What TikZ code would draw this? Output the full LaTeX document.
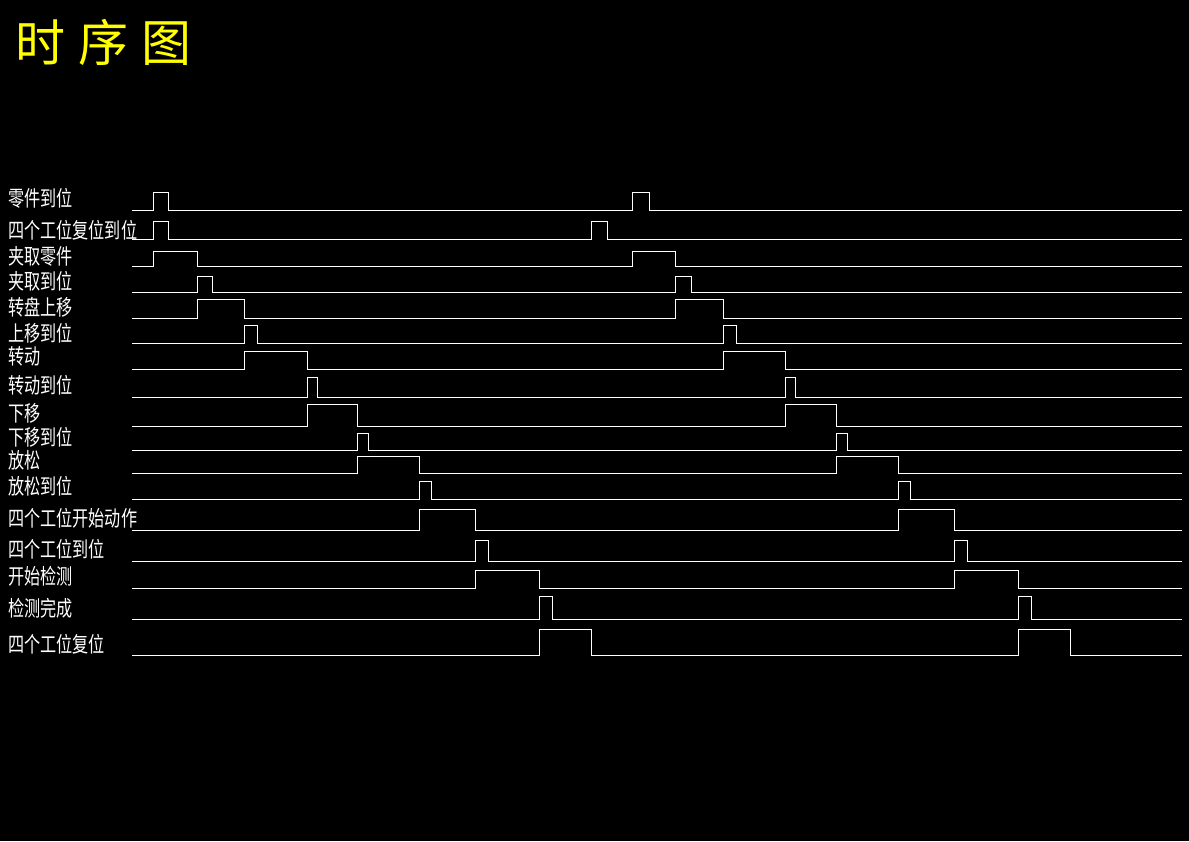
\documentclass[tikz,border=0pt]{standalone}
\usepackage{fontspec}
\usepackage{graphicx}
\newfontfamily\cjk{Noto Sans CJK SC}
\definecolor{titleyellow}{RGB}{255,255,0}
\tikzset{
  sig/.style={draw=white, line width=1pt, line join=miter},
  lab/.style={anchor=west, inner sep=0pt, text=white, font=\cjk\fontsize{21.5}{21.5}\selectfont},
  ttl/.style={anchor=west, inner sep=0pt, text=titleyellow, font=\cjk\fontsize{50}{50}\selectfont}
}
% \wave{low}{high}{a}{b}{c}{d}
\newcommand\wave[6]{%
  \draw[sig] (132.3,#1) -- (#3,#1) -- (#3,#2) -- (#4,#2) -- (#4,#1) -- (#5,#1) -- (#5,#2) -- (#6,#2) -- (#6,#1) -- (1181.7,#1);}
\newcommand\lbl[3]{\node[lab] (#1) at (8,#2) {\scalebox{0.75}[1]{#3}};}
\begin{document}
\begin{tikzpicture}[x=1pt,y=-1pt]
\fill[black] (0,0) rectangle (1189,841);
\useasboundingbox (0,0) rectangle (1189,841);
\node[ttl] (title) at (15,42) {时\hspace{13pt}序\hspace{13pt}图};
\lbl{l1}{198}{零件到位}
\lbl{l2}{230}{四个工位复位到位}
\lbl{l3}{256}{夹取零件}
\lbl{l4}{281}{夹取到位}
\lbl{l5}{307}{转盘上移}
\lbl{l6}{333}{上移到位}
\lbl{l7}{356}{转动}
\lbl{l8}{385}{转动到位}
\lbl{l9}{413}{下移}
\lbl{l10}{437}{下移到位}
\lbl{l11}{460}{放松}
\lbl{l12}{486}{放松到位}
\lbl{l13}{518}{四个工位开始动作}
\lbl{l14}{549}{四个工位到位}
\lbl{l15}{576}{开始检测}
\lbl{l16}{608}{检测完成}
\lbl{l17}{644}{四个工位复位}
\wave{210}{192.3}{153.3}{168.3}{632.3}{649.3}
\wave{239.3}{221.3}{153.3}{168.3}{591.3}{607.3}
\wave{266}{251.3}{153.3}{197.3}{632.3}{675.7}
\wave{292.3}{276.3}{197.3}{212.3}{675.7}{691.3}
\wave{318}{299.3}{197.3}{244.7}{675.7}{723.3}
\wave{343.3}{325.3}{244.7}{257}{723.3}{736.3}
\wave{369.3}{351.3}{244.7}{307.3}{723.3}{785.3}
\wave{397.3}{377.3}{307.3}{317.7}{785.3}{795.3}
\wave{426.3}{404.3}{307.3}{357.5}{785.3}{836.3}
\wave{450.3}{433.3}{357.5}{368.3}{836.3}{847.3}
\wave{473.3}{456.3}{357.5}{419.3}{836.3}{898.3}
\wave{499.3}{481.3}{419.3}{431.3}{898.3}{910.3}
\wave{530}{509.3}{419.3}{475.3}{898.3}{954.3}
\wave{561.3}{540.3}{475.3}{488.3}{954.3}{967.3}
\wave{588.3}{570.3}{475.3}{539.3}{954.3}{1018.3}
\wave{619.3}{596.3}{539.3}{552.3}{1018.3}{1031.3}
\wave{655.3}{629.3}{539.3}{591.3}{1018.3}{1070.3}
\end{tikzpicture}
\end{document}
